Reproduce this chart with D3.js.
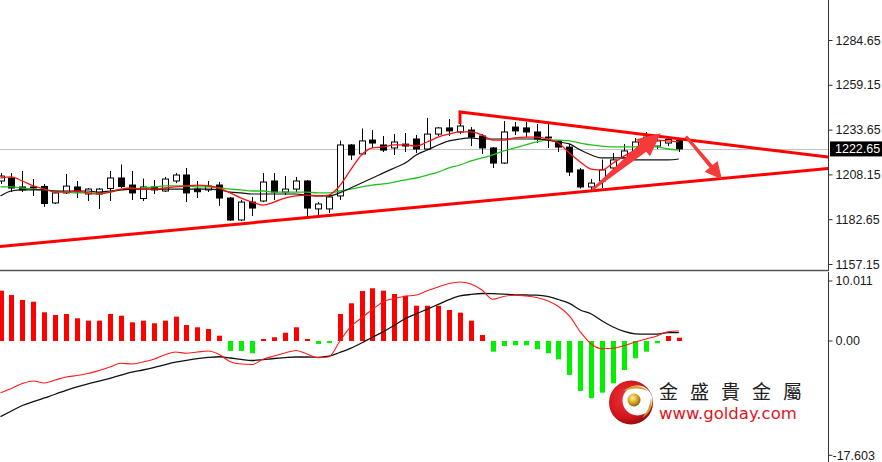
<!DOCTYPE html>
<html><head><meta charset="utf-8">
<script src="https://cdn.jsdelivr.net/npm/d3@7"></script>
<style>body{margin:0;background:#fff}svg{display:block}</style>
</head><body>
<svg id="c" width="882" height="462"></svg>
<script>
// ---------- DATA ----------
const open  = [1204.4,1206.1,1201.0,1201.0,1201.3,1191.9,1197.6,1201.0,1197.0,1197.0,1200.1,1206.1,1202.1,1194.4,1201.0,1198.7,1204.4,1207.8,1199.8,1199.3,1202.1,1194.7,1182.2,1192.4,1193.0,1204.4,1198.1,1199.8,1204.4,1188.5,1188.5,1195.9,1224.9,1219.8,1227.7,1224.9,1223.2,1225.4,1228.3,1222.6,1231.1,1234.6,1232.3,1233.4,1230.0,1223.2,1214.6,1235.1,1234.6,1232.3,1229.4,1227.2,1223.7,1210.7,1201.0,1204.4,1211.8,1217.5,1220.9,1225.4,1224.3,1226.0,1227.7];
const high  = [1208.9,1208.9,1210.1,1205.5,1202.7,1198.1,1208.4,1204.4,1200.4,1200.4,1210.1,1213.8,1210.1,1205.8,1205.0,1206.7,1208.9,1211.8,1204.4,1204.4,1203.8,1195.3,1193.6,1195.3,1208.9,1208.9,1207.2,1206.7,1205.0,1192.4,1196.4,1227.4,1225.4,1234.3,1233.4,1230.0,1231.1,1231.7,1230.6,1240.3,1235.1,1239.7,1243.7,1235.1,1231.1,1223.7,1238.5,1238.0,1238.0,1236.8,1236.8,1227.7,1225.4,1211.8,1205.5,1216.6,1220.3,1225.4,1228.9,1232.3,1230.6,1229.4,1228.9];
const low   = [1202.7,1198.1,1198.1,1195.9,1189.6,1191.3,1197.0,1194.7,1193.0,1188.5,1193.0,1200.4,1193.6,1193.0,1197.0,1198.1,1203.2,1192.4,1194.7,1198.1,1190.2,1181.6,1181.6,1184.5,1192.4,1193.6,1196.4,1198.1,1184.2,1184.2,1186.2,1193.6,1216.4,1219.2,1223.2,1220.9,1219.2,1220.9,1220.3,1222.0,1230.0,1230.0,1231.1,1224.3,1219.8,1211.8,1214.1,1230.6,1229.4,1226.0,1223.2,1220.9,1207.2,1200.1,1199.0,1200.4,1210.7,1216.4,1220.3,1223.7,1222.6,1224.3,1220.9];
const close = [1207.2,1200.4,1199.3,1200.4,1191.6,1197.6,1201.5,1198.1,1199.8,1199.8,1206.1,1201.3,1197.6,1201.0,1199.3,1205.5,1207.8,1197.6,1198.3,1201.5,1194.7,1182.2,1192.4,1189.0,1203.8,1198.1,1199.8,1204.4,1189.0,1191.3,1195.3,1224.9,1219.2,1227.2,1226.0,1222.0,1226.6,1224.3,1222.6,1231.1,1234.6,1232.9,1235.7,1229.4,1223.2,1214.6,1232.3,1232.9,1232.3,1228.3,1228.9,1223.7,1209.5,1201.0,1203.2,1210.7,1216.4,1221.5,1226.6,1229.4,1227.2,1228.0,1222.65];

const maFast  = [1206.1,1206.7,1204.4,1201.6,1199.8,1198.1,1198.1,1198.7,1197.6,1197.0,1198.1,1199.8,1200.4,1199.8,1199.8,1200.4,1201.0,1201.6,1202.1,1201.6,1200.4,1197.6,1194.7,1192.4,1190.7,1192.4,1194.7,1195.9,1196.4,1195.9,1196.4,1201.6,1210.7,1219.2,1223.2,1223.8,1224.9,1224.9,1224.3,1226.6,1229.4,1231.1,1232.3,1232.3,1230.6,1227.7,1227.7,1228.9,1229.4,1229.4,1228.3,1226.0,1220.3,1215.2,1211.2,1210.7,1214.6,1218.6,1222.0,1226.0,1227.7,1227.2,1226.6];
const maMid   = [1195.9,1198.7,1199.3,1199.3,1199.3,1198.7,1198.7,1198.7,1198.7,1198.1,1198.7,1199.3,1199.8,1199.8,1199.8,1199.8,1199.8,1199.8,1199.8,1199.8,1199.3,1198.1,1197.6,1197.0,1197.0,1197.0,1197.0,1197.0,1196.4,1195.9,1195.9,1197.6,1200.4,1203.3,1206.1,1209.0,1211.8,1214.6,1219.2,1222.0,1224.9,1227.2,1228.3,1228.9,1228.3,1228.3,1228.3,1228.3,1228.3,1228.3,1227.7,1226.6,1225.5,1222.0,1219.2,1217.5,1217.5,1217.5,1216.4,1216.4,1216.4,1216.4,1216.9];
const maSlow  = [1201.0,1201.0,1200.4,1199.8,1199.3,1198.7,1198.1,1197.6,1197.6,1197.6,1198.1,1199.3,1199.8,1200.4,1201.0,1201.6,1201.6,1201.6,1201.0,1201.0,1200.4,1199.8,1199.3,1198.7,1198.7,1198.1,1198.1,1198.1,1198.1,1197.6,1197.6,1198.7,1199.8,1201.0,1202.1,1202.7,1203.8,1205.0,1206.1,1207.8,1209.5,1211.8,1213.5,1215.8,1217.5,1219.2,1221.5,1223.2,1224.9,1226.6,1227.7,1227.7,1227.2,1226.0,1224.9,1224.3,1223.8,1223.8,1223.8,1224.3,1223.8,1222.6,1222.0];

const macdHist  = [7.30,6.67,5.95,5.70,4.16,3.77,3.92,3.29,2.95,2.95,3.92,3.67,2.71,2.95,2.57,2.95,3.53,2.32,1.99,1.74,0.77,-1.45,-1.45,-1.78,0.15,0.54,1.20,1.99,0.29,-0.44,-0.29,3.92,5.47,7.25,7.65,7.30,6.82,6.57,5.12,5.12,5.12,4.50,4.11,2.95,0.87,-1.55,-0.73,-0.62,-0.62,-1.20,-1.78,-2.66,-4.93,-7.25,-8.31,-7.50,-6.14,-4.21,-2.51,-1.55,-0.33,0.73,0.48];
const macdFast  = [-7.50,-6.89,-6.17,-5.80,-6.09,-5.66,-5.22,-5.01,-4.72,-4.28,-3.77,-3.24,-3.34,-3.05,-2.66,-2.03,-1.60,-1.78,-1.60,-1.45,-1.96,-3.00,-3.34,-3.41,-2.66,-2.18,-1.74,-1.38,-1.89,-2.42,-2.32,-0.07,2.07,3.34,4.57,5.70,6.17,6.49,6.67,7.28,7.84,8.34,8.56,8.27,7.40,6.05,6.46,6.63,6.53,6.31,5.83,5.01,3.63,1.31,-0.44,-1.13,-1.06,-0.70,-0.15,0.29,0.73,1.35,1.45];
const macdSlow  = [-10.98,-10.16,-9.36,-8.81,-8.27,-7.73,-7.15,-6.65,-6.21,-5.83,-5.41,-4.96,-4.53,-4.21,-3.85,-3.45,-3.08,-2.80,-2.57,-2.39,-2.29,-2.47,-2.67,-2.83,-2.71,-2.54,-2.41,-2.32,-2.32,-2.37,-2.21,-1.67,-1.06,-0.29,0.54,1.35,2.29,3.26,3.95,4.61,5.30,5.99,6.53,6.75,6.89,6.86,6.79,6.70,6.67,6.65,6.47,6.02,5.47,4.50,3.92,2.90,2.03,1.38,1.04,0.99,0.99,1.20,1.20];

const priceTicks = [1284.65,1259.15,1233.65,1208.15,1182.65,1157.15];
const lastPrice = 1222.65;
const macdTicks = [10.011, 0, -17.603];
const macdTickLabels = ["10.011","0.00","-17.603"];
const brandName = "金盛貴金屬";
const brandUrl = "www.golday.com";

// annotations (index, price)
const supportLine = [[-0.05,1167.1],[75.7,1211.5]];
const resistLine  = [[42,1236.8],[42,1243.7],[75.7,1218.0]];
const upArrow   = [[54.05,1199.3],[60.35,1231.6]];
const downArrow = [[62.65,1229.8],[65.95,1205.3]];

// ---------- SCALES ----------
const svg = d3.select("#c");
const axisX = 828;
const x  = d3.scaleLinear().domain([0,62]).range([0.5,678.8]);
const yP = d3.scaleLinear().domain([1157.15,1284.65]).range([264,40]);
const yM = d3.scaleLinear().domain([-17.603,10.011]).range([462.3,272]);
const idx = d3.range(open.length);

const defs = svg.append("defs");
defs.append("clipPath").attr("id","cpP").append("rect").attr("x",0).attr("y",0).attr("width",axisX).attr("height",269);
defs.append("clipPath").attr("id","cpM").append("rect").attr("x",0).attr("y",272).attr("width",axisX).attr("height",190);
const rg = defs.append("radialGradient").attr("id","redBall").attr("cx","40%").attr("cy","40%").attr("r","65%");
rg.append("stop").attr("offset","0%").attr("stop-color","#f0353a");
rg.append("stop").attr("offset","70%").attr("stop-color","#d0141c");
rg.append("stop").attr("offset","100%").attr("stop-color","#8c0a0e");
const gg = defs.append("radialGradient").attr("id","goldBall").attr("cx","40%").attr("cy","35%").attr("r","65%");
gg.append("stop").attr("offset","0%").attr("stop-color","#fff2a8");
gg.append("stop").attr("offset","55%").attr("stop-color","#d9a91e");
gg.append("stop").attr("offset","100%").attr("stop-color","#8a6210");

// ---------- PRICE PANEL ----------
const yLast = Math.round(yP(lastPrice)) + 0.5;
svg.append("line").attr("x1",0).attr("x2",axisX).attr("y1",yLast).attr("y2",yLast)
  .attr("stroke","#c3c3c3").attr("stroke-width",1);

const pg = svg.append("g").attr("clip-path","url(#cpP)");
const cx = i => Math.round(x(i));
pg.selectAll(".wick").data(idx).join("line").attr("class","wick")
  .attr("x1",i=>cx(i)+0.5).attr("x2",i=>cx(i)+0.5)
  .attr("y1",i=>yP(high[i])).attr("y2",i=>yP(low[i]))
  .attr("stroke","#000").attr("stroke-width",1);
pg.selectAll(".body").data(idx).join("rect").attr("class","body")
  .attr("x",i=>cx(i)-2.5).attr("width",6)
  .attr("y",i=>Math.min(yP(open[i]),yP(close[i])))
  .attr("height",i=>Math.max(0.5,Math.abs(yP(open[i])-yP(close[i]))))
  .attr("fill",i=>close[i]>=open[i]?"#fff":"#000")
  .attr("stroke","#000").attr("stroke-width",1);

const lineP = d3.line().x((d,i)=>x(i)).y(d=>yP(d)).curve(d3.curveMonotoneX);
pg.append("path").attr("d",lineP(maSlow)).attr("fill","none").attr("stroke","#1fc21f").attr("stroke-width",1.3);
pg.append("path").attr("d",lineP(maMid)).attr("fill","none").attr("stroke","#111").attr("stroke-width",1.2);
pg.append("path").attr("d",lineP(maFast)).attr("fill","none").attr("stroke","#ff1010").attr("stroke-width",1.3);

const lineA = d3.line().x(d=>x(d[0])).y(d=>yP(d[1]));
pg.append("path").attr("d",lineA(supportLine)).attr("fill","none").attr("stroke","#ff0000").attr("stroke-width",3);
pg.append("path").attr("d",lineA(resistLine)).attr("fill","none").attr("stroke","#ff0000").attr("stroke-width",3);

function arrowPoly(a, tw, sw, hw, hl){
  const T=[x(a[0][0]),yP(a[0][1])], P=[x(a[1][0]),yP(a[1][1])];
  const dx=P[0]-T[0], dy=P[1]-T[1], L=Math.hypot(dx,dy);
  const u=[dx/L,dy/L], n=[-u[1],u[0]];
  const B=[P[0]-u[0]*hl,P[1]-u[1]*hl];
  const pt=(p,k)=>[p[0]+n[0]*k,p[1]+n[1]*k];
  return [pt(T,tw),pt(B,sw),pt(B,hw),P,pt(B,-hw),pt(B,-sw),pt(T,-tw)].map(p=>p.join(",")).join(" ");
}
pg.append("polygon").attr("points",arrowPoly(upArrow,1,5,11,23)).attr("fill","#f63a3a");
pg.append("polygon").attr("points",arrowPoly(downArrow,1.5,2,8.5,17)).attr("fill","#f63a3a");

// ---------- MACD PANEL ----------
const mg = svg.append("g").attr("clip-path","url(#cpM)");
const y0 = yM(0);
mg.selectAll(".hb").data(idx).join("rect").attr("class","hb")
  .attr("x",i=>cx(i)-2).attr("width",5)
  .attr("y",i=>macdHist[i]>0?Math.min(yM(macdHist[i]),y0-2):y0)
  .attr("height",i=>Math.max(2,Math.abs(yM(macdHist[i])-y0)))
  .attr("fill",i=>macdHist[i]>0?"#ff0000":"#00f000");
const lineM = d3.line().x((d,i)=>x(i)).y(d=>yM(d)).curve(d3.curveMonotoneX);
mg.append("path").attr("d",lineM(macdSlow)).attr("fill","none").attr("stroke","#111").attr("stroke-width",1.3);
mg.append("path").attr("d",lineM(macdFast)).attr("fill","none").attr("stroke","#ff1a1a").attr("stroke-width",1.1);

// logo
const logo = svg.append("g");
logo.append("circle").attr("cx",631).attr("cy",402.5).attr("r",22).attr("fill","url(#redBall)");
logo.append("circle").attr("cx",637.5).attr("cy",400.5).attr("r",15).attr("fill","#fff");
logo.append("path").attr("d","M623,391 Q636,381 648,391 Q637,386 623,391 Z").attr("fill","#d4a32a");
logo.append("path").attr("d","M651,398 Q654,411 642,418 Q650,409 651,398 Z").attr("fill","#d4a32a");
logo.append("circle").attr("cx",634).attr("cy",400).attr("r",6.5).attr("fill","url(#goldBall)");
logo.append("text").attr("x",659).attr("y",399).text(brandName)
  .attr("font-family","'Noto Sans CJK TC','Noto Sans CJK SC',sans-serif").attr("font-size",19)
  .attr("letter-spacing",12).attr("fill","#222");
logo.append("text").attr("x",659).attr("y",419).text(brandUrl)
  .attr("font-family","'DejaVu Sans',Verdana,sans-serif").attr("font-size",16.5).attr("fill","#e3141c");

// ---------- AXES ----------
svg.append("line").attr("x1",axisX+0.5).attr("x2",axisX+0.5).attr("y1",0).attr("y2",270).attr("stroke","#333");
svg.append("line").attr("x1",axisX+0.5).attr("x2",axisX+0.5).attr("y1",272).attr("y2",462).attr("stroke","#333");
svg.append("line").attr("x1",0).attr("x2",axisX+1).attr("y1",270.5).attr("y2",270.5).attr("stroke","#555").attr("stroke-width",1.5);

const ax = svg.append("g").attr("transform",`translate(${axisX+0.5},0)`)
  .call(d3.axisRight(yP).tickValues(priceTicks).tickSize(4).tickPadding(3).tickFormat(d3.format(".2f")));
ax.select(".domain").remove();
ax.selectAll("line").attr("stroke","#333");
ax.selectAll("text").attr("font-family","'Liberation Sans',Arial,sans-serif").attr("font-size",12.5).attr("fill","#1a1a1a");

// last price box
svg.append("rect").attr("x",830).attr("y",yP(lastPrice)-7.5).attr("width",52).attr("height",15).attr("fill","#000");
svg.append("text").attr("x",835).attr("y",yP(lastPrice)).attr("dy","0.35em").text(d3.format(".2f")(lastPrice))
  .attr("font-family","'Liberation Sans',Arial,sans-serif").attr("font-size",12.5).attr("fill","#fff");

// macd axis (top/bottom labels are inset like the terminal does)
const mOff = [9, 0, -7];
const mx = svg.append("g").attr("transform",`translate(${axisX+0.5},0)`);
macdTicks.forEach((v,k)=>{
  const yy = yM(v)+mOff[k];
  mx.append("line").attr("x1",0).attr("x2",4).attr("y1",yy).attr("y2",yy).attr("stroke","#333");
  mx.append("text").attr("x",k===2?4:7).attr("y",yy).attr("dy","0.35em").text(macdTickLabels[k])
    .attr("font-family","'Liberation Sans',Arial,sans-serif").attr("font-size",12.5).attr("fill","#1a1a1a");
});
</script>
</body></html>
